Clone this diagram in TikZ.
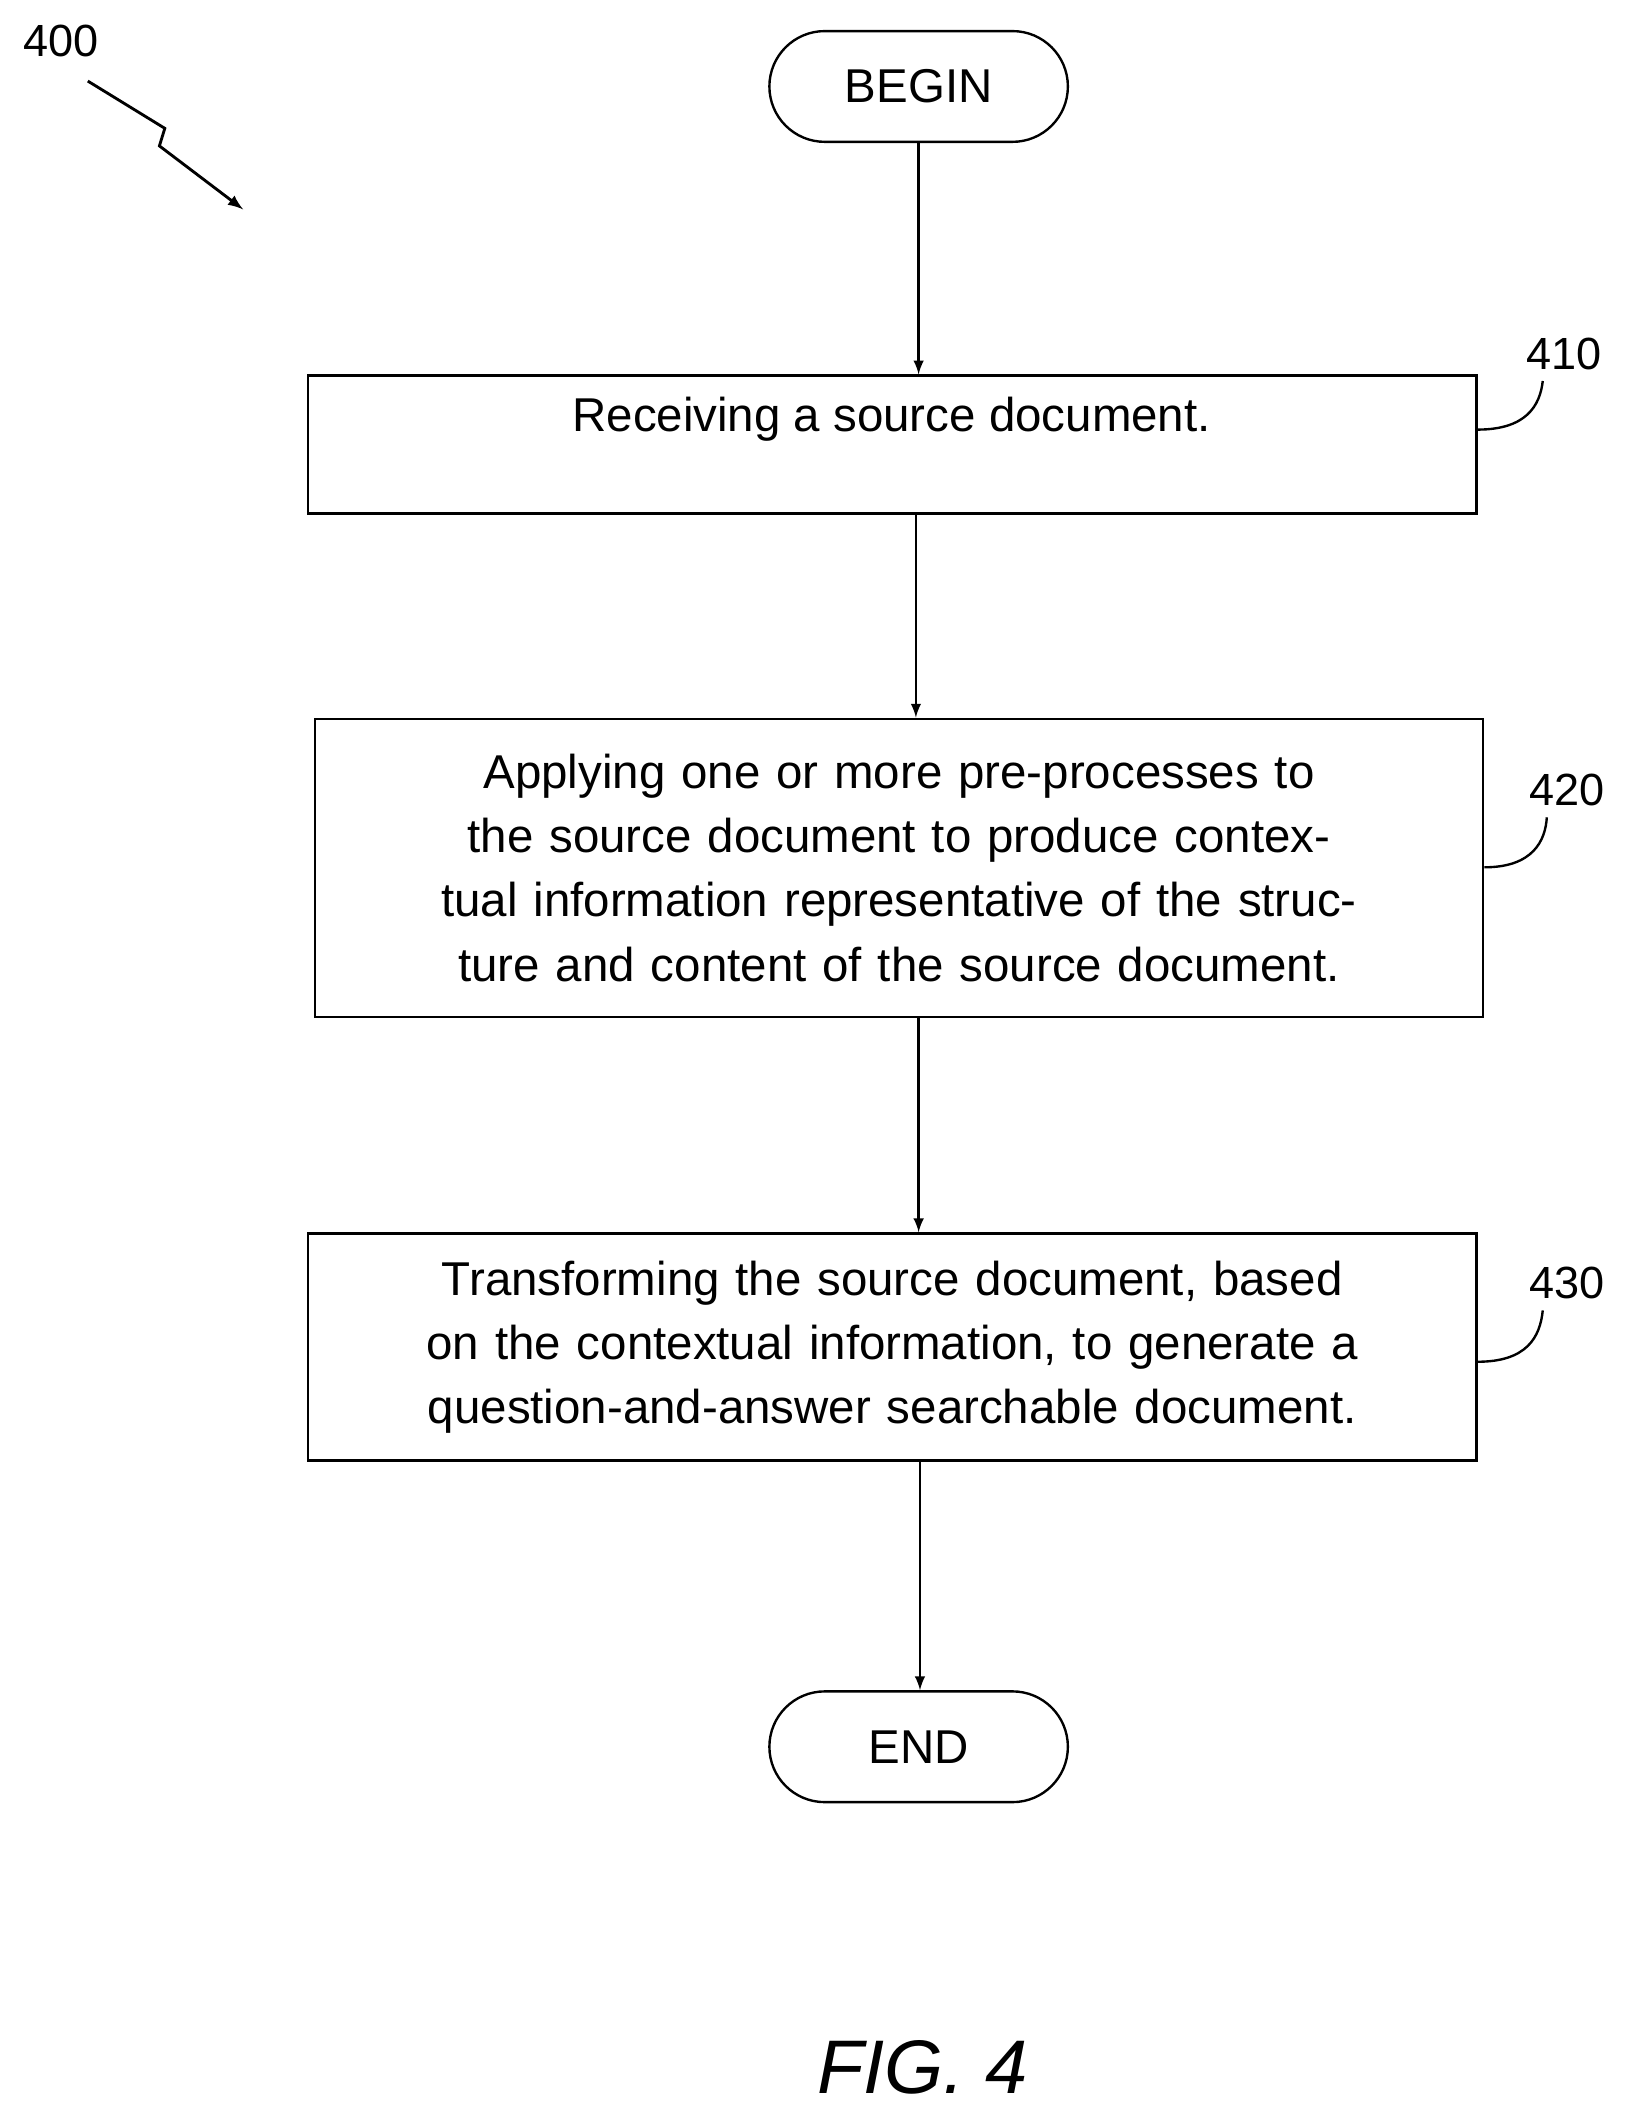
\documentclass[tikz,border=0pt]{standalone}
\usepackage{fontspec}
\setmainfont{Liberation Sans}
\usetikzlibrary{positioning}
\begin{document}
\begin{tikzpicture}[x=0.02cm,y=-0.02cm]
            \tikzstyle{terminal} = [draw, line width=1pt, rounded corners=0.82cm, minimum width=4.42cm, minimum height=1.64cm, font=\fontsize{20}{27}\selectfont]
            \tikzstyle{action}   = [draw, line width=1pt, minimum width=17.3cm, align=center, text width=16.9cm, font=\fontsize{20}{27}\selectfont]
            \tikzstyle{refnum}   = [font=\fontsize{19}{23}\selectfont]
            \tikzstyle{flow}     = [->, line width=1pt, >=latex]

            \useasboundingbox (0,0) rectangle (1210,1573);

            \node[terminal] (begin) at (680,64) {BEGIN};
            \node[action, minimum height=2.04cm] (s410) at (660.5,329) {};
            \node[font=\fontsize{20}{27}\selectfont, anchor=north] (t410) at (660,288) {Receiving a source document.};
            \node[action, minimum height=4.42cm] (s420) at (665.5,642.5) {Applying one or more pre-processes to the source document to produce contextual information representative of the structure and content of the source document.};
            \node[action, minimum height=3.36cm] (s430) at (660.5,997) {Transforming the source document, based on the contextual information, to generate a question-and-answer searchable document.};
            \node[terminal] (end) at (680,1293) {END};

            \draw[flow] (begin.south) -- (s410.north -| begin.south);
            \draw[flow] (s410.south -| 678,0) -- (s420.north -| 678,0);
            \draw[flow] (s420.south -| 680,0) -- (s430.north -| 680,0);
            \draw[flow] (s430.south -| 681,0) -- (end.north -| 681,0);

            % Reference numerals
            \node[refnum] (n410) at (1158,262) {410};
            \draw[line width=1pt] (s410.east |- 0,318) .. controls (1130,318) and (1140,300) .. (1142,282);
            \node[refnum] (n420) at (1160,585) {420};
            \draw[line width=1pt] (s420.east |- 0,642) .. controls (1135,642) and (1144,622) .. (1145,605);
            \node[refnum] (n430) at (1160,950) {430};
            \draw[line width=1pt] (s430.east |- 0,1008) .. controls (1130,1008) and (1140,990) .. (1142,970);

            \node[refnum] (n400) at (45,30) {400};
            \coordinate (z1) at (65,60);
            \coordinate (z2) at (122,95);
            \coordinate (z3) at (118,108);
            \coordinate (z4) at (180,155);
            \draw[flow, line width=1.2pt] (z1) -- (z2) -- (z3) -- (z4);

            \node[font=\fontsize{32}{38}\selectfont\itshape] (fig) at (683,1530) {FIG. 4};
        \end{tikzpicture}
\end{document}
